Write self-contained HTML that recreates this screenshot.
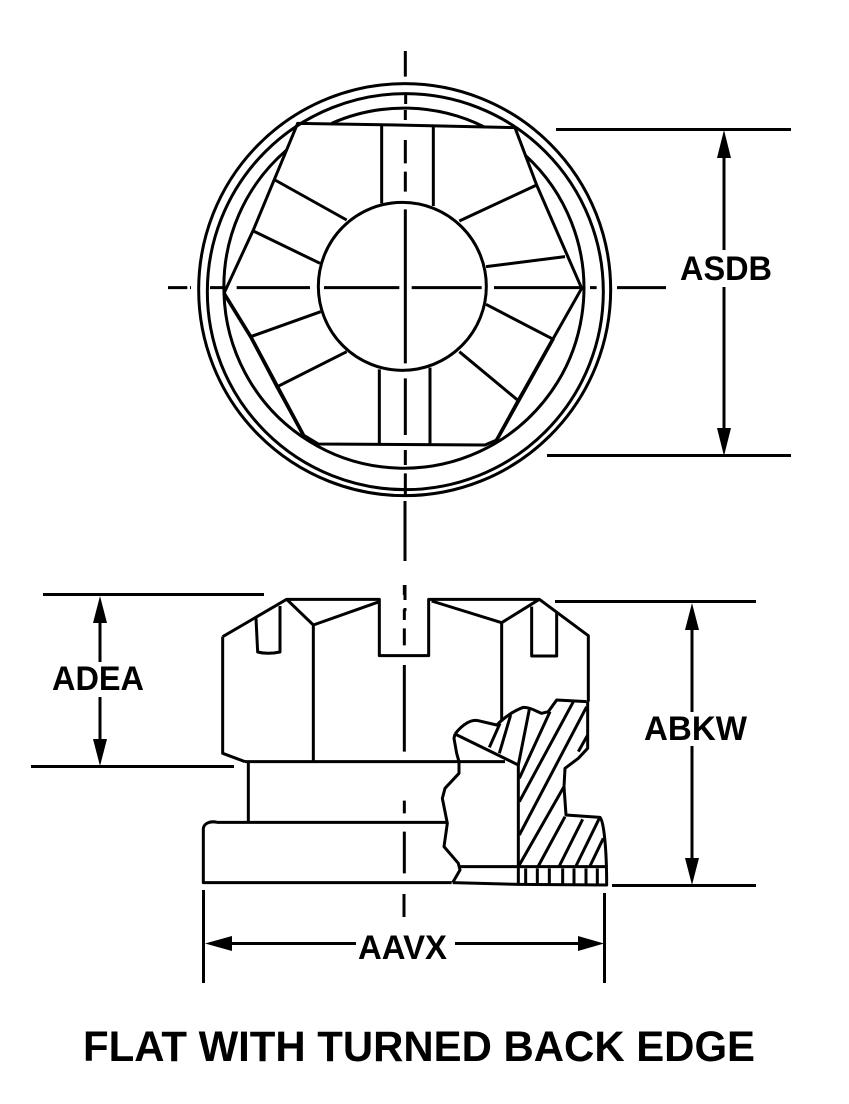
<!DOCTYPE html>
<html>
<head>
<meta charset="utf-8">
<style>
html,body{margin:0;padding:0;background:#fff}
svg{display:block}
text{font-family:"Liberation Sans",sans-serif;font-weight:bold;fill:#000}
</style>
</head>
<body>
<svg width="849" height="1104" viewBox="0 0 849 1104" xmlns="http://www.w3.org/2000/svg">
<rect width="849" height="1104" fill="#fff"/>

<!-- top view -->
<g transform="translate(190 70) scale(0.33333)" fill="none" stroke="#000" stroke-width="9">
  <circle cx="644" cy="659" r="618"/>
  <circle cx="646" cy="665" r="594"/>
  <path d="M102 670 A540 540 0 0 1 290 240 M425 160 A540 540 0 0 1 885 172 M1005 255 A540 540 0 1 1 102 670"/>
  <circle cx="637" cy="649" r="252"/>
  <path d="M102 670 L190 480 L323 160 L620 165 L975 173 L1040 345 L1175 655 L1090 805 L985 990 L920 1110 L885 1125 L385 1122 L340 1095 L260 950 L182 800 L102 670"/>
  <path d="M1090 805 L920 1110 M102 670 L182 800 L340 1095" stroke-width="11"/>
  <path d="M575 165V400 M730 168V408 M568 898V1122 M720 893V1125"/>
  <path d="M255 330L470 450 M190 483L390 580 M808 453L1040 345 M888 590L1125 560 M182 800L392 725 M262 950L470 845 M888 703L1090 808 M808 845L985 992"/>
  <!-- centerlines -->
  <path d="M646 -57V20 M647 75V102 M646 120V150 M646 210V280 M646 305V365 M646 418V880 M646 925V1095 M646 1140V1185 M646 1210V1275"/>
  <path d="M-66 653H-8 M0 653H3 M60 653H112 M140 653H360 M402 653H628 M665 653H875 M912 653H1172 M1200 653H1220 M1281 653H1428"/>
</g>
<path d="M405 501V561 M405 585V600 M405 608V611" stroke="#000" stroke-width="3" fill="none"/>

<!-- side view -->
<g transform="translate(190 580) scale(0.33333)" fill="none" stroke="#000" stroke-width="9" stroke-linejoin="round">
  <path d="M785 908 H40 V745 C42 730 60 722 82 727 H770"/>
  <path d="M175 545V727 M165 545H945"/>
  <path d="M98 170V520L165 545 M98 170L290 58 H568 V227 H716 V58 H1048 L1195 167 V365"/>
  <path d="M290 58L370 135L568 65 M370 135V545 M725 63L935 128L1048 58 M935 128V425"/>
  <path d="M198 115 L203 216 C225 222 250 220 270 216 V78 M1025 80V228H1100V97"/>
  <path d="M643 15V45 M643 88V120 M643 145V196 M643 255V515 M643 662V700 M643 755V880"/>
</g>
<path d="M404 894V917" stroke="#000" stroke-width="3" fill="none"/>

<!-- cutaway -->
<g transform="translate(440 690) scale(0.33333)" fill="none" stroke="#000" stroke-width="9" stroke-linejoin="round">
  <path d="M45 132 L42 145 L50 190 L57 215 L57 250 L15 295 L7 325 L22 400 L12 470 L55 520 L60 540 L38 578"/>
  <path d="M45 132 C70 100 95 88 115 92 L170 105 C190 85 215 65 250 52 C270 52 285 62 305 70 L325 65 L350 30 L440 35"/>
  <path d="M443 35 V175 L415 205 L375 235 L372 290 L378 375 L480 382 C492 395 500 480 500 585 L235 583 L38 578"/>
  <path d="M45 132 L235 225 V585 M60 530 H500"/>
  <path d="M148 172L180 100 M178 190L212 75 M235 225L268 58 M238 265L330 65 M238 335L400 35 M238 435L440 50 M238 525L372 290 M295 528L375 380 M358 528L428 388 M408 528L478 385 M450 528L490 445 M415 185L443 135"/>
  <path d="M257 535V585 M292 535V585 M328 535V585 M368 535V585 M402 535V585 M438 535V585 M472 535V585"/>
</g>

<!-- dimension lines -->
<g stroke="#000" stroke-width="3" fill="none">
  <path d="M556 129.500H791 M547 455.500H791"/>
  <path d="M724 150V250 M724 287V435"/>
  <path d="M43 594.500H264 M31 766.500H234"/>
  <path d="M100 620V662 M100 697V745"/>
  <path d="M555 601.500H756 M612 885.500H756"/>
  <path d="M692 625V712 M692 746V862"/>
  <path d="M203.500 890V983 M604.500 893V983"/>
  <path d="M225 943.500H356 M455 943.500H585"/>
</g>
<g fill="#000" stroke="none">
  <path d="M724 130L717 158H731Z M724 456L717 428H731Z"/>
  <path d="M100 596L93 623H107Z M100 766L93 739H107Z"/>
  <path d="M692 603L685 630H699Z M692 885L685 858H699Z"/>
  <path d="M205 943.500L232 936V951Z M604 943.500L578 936V951Z"/>
</g>

<text x="680" y="280" font-size="34" textLength="92" lengthAdjust="spacingAndGlyphs">ASDB</text>
<text x="52" y="690" font-size="34" textLength="92" lengthAdjust="spacingAndGlyphs">ADEA</text>
<text x="644" y="740" font-size="34" textLength="103" lengthAdjust="spacingAndGlyphs">ABKW</text>
<text x="358" y="959" font-size="34" textLength="89" lengthAdjust="spacingAndGlyphs">AAVX</text>
<text x="83" y="1061" font-size="43" textLength="672" lengthAdjust="spacingAndGlyphs">FLAT WITH TURNED BACK EDGE</text>
</svg>
</body>
</html>
